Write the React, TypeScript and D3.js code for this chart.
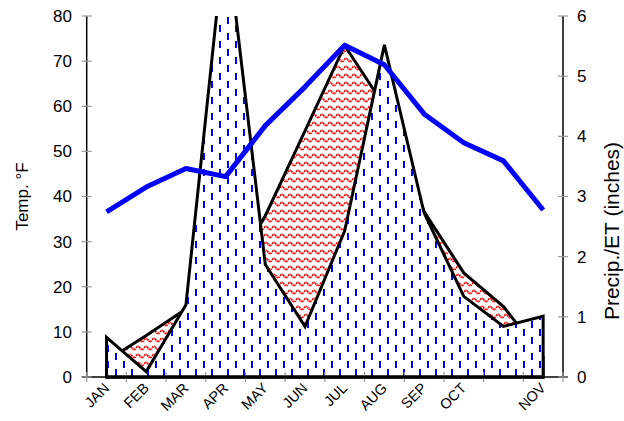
import React from "react";
import * as d3 from "d3";

const months = ["JAN", "FEB", "MAR", "APR", "MAY", "JUN", "JUL", "AUG", "SEP", "OCT", "", "NOV"];
const temp = [36.6, 42.1, 46.2, 44.4, 55.7, 64.3, 73.5, 69.2, 58.3, 51.9, 47.9, 37.0];
const precip = [0.66, 0.09, 1.2, 7.44, 1.87, 0.84, 2.43, 5.52, 2.73, 1.34, 0.84, 1.01];
const et = [0.27, 0.69, 1.13, 1.56, 2.68, 4.09, 5.51, 4.5, 2.75, 1.73, 1.17, 0.33];
const leftTicks = [0, 10, 20, 30, 40, 50, 60, 70, 80];
const rightTicks = [0, 1, 2, 3, 4, 5, 6];

const W = 624, H = 421;
const L = 86.7, R = 563, T = 16, B = 377;
const FONT = "'Liberation Sans', Arial, sans-serif";

export default function App() {
  const idx = months.map((_, i) => i);
  const x = d3.scaleBand<number>().domain(idx).range([L, R]).paddingInner(0).paddingOuter(0);
  const cx = (i: number) => (x(i) as number) + x.bandwidth() / 2;
  const yL = d3.scaleLinear().domain([0, 80]).range([B, T]);
  const yR = d3.scaleLinear().domain([0, 6]).range([B, T]);

  const areaGen = d3
    .area<number>()
    .x((_, i) => cx(i))
    .y0(yR(0))
    .y1((d) => yR(d));
  const lineGen = d3
    .line<number>()
    .x((_, i) => cx(i))
    .y((d) => yL(d));

  const boundaries = d3.range(months.length + 1).map((i) => L + i * x.bandwidth());

  return (
    <svg width={W} height={H} style={{ position: "absolute", left: 0, top: 0, background: "#fff" }} fontFamily={FONT}>
      <defs>
        <clipPath id="plotClip">
          <rect x={L - 5} y={T} width={R - L + 10} height={B - T + 5} />
        </clipPath>
        <pattern id="bluePat" patternUnits="userSpaceOnUse" width={16} height={16}>
          <rect width={16} height={16} fill="#fff" />
          <rect x={3} y={1} width={2} height={7} fill="#0000ff" />
          <rect x={11} y={9} width={2} height={7} fill="#0000ff" />
        </pattern>
        <pattern id="redPat" patternUnits="userSpaceOnUse" width={8} height={8}>
          <rect width={8} height={8} fill="#fff" />
          <path d="M0,4 Q2,0.8 4,4 T8,4" fill="none" stroke="#ff0000" strokeWidth={1.7} strokeDasharray="1.5 0.5" />
        </pattern>
      </defs>

      <g clipPath="url(#plotClip)">
        <path d={areaGen(et) as string} fill="url(#redPat)" stroke="#000" strokeWidth={3} strokeLinejoin="miter" />
        <path d={areaGen(precip) as string} fill="url(#bluePat)" stroke="#000" strokeWidth={3} strokeLinejoin="miter" />
      </g>

      {/* axes */}
      <line x1={L} x2={L} y1={T} y2={B} stroke="#000" strokeWidth={1.5} />
      <line x1={R} x2={R} y1={T} y2={B} stroke="#000" strokeWidth={1.5} />
      <line x1={L - 5} x2={R + 5} y1={B} y2={B} stroke="#000" strokeWidth={1.5} />
      {leftTicks.map((t) => (
        <g key={"l" + t}>
          <line x1={L - 5} x2={L + 5} y1={yL(t)} y2={yL(t)} stroke="#999" strokeWidth={1.2} />
          <text x={72} y={yL(t)} dy="0.35em" textAnchor="end" fontSize={17} fill="#000">
            {t}
          </text>
        </g>
      ))}
      {rightTicks.map((t) => (
        <g key={"r" + t}>
          <line x1={R - 5} x2={R + 5} y1={yR(t)} y2={yR(t)} stroke="#999" strokeWidth={1.2} />
          <text x={577} y={yR(t)} dy="0.35em" textAnchor="start" fontSize={17} fill="#000">
            {t}
          </text>
        </g>
      ))}
      {boundaries.map((b, i) => (
        <line key={"b" + i} x1={b} x2={b} y1={B - 5} y2={B + 5} stroke="#999" strokeWidth={1.2} />
      ))}

      {/* temperature line */}
      <path d={lineGen(temp) as string} fill="none" stroke="#0000ff" strokeWidth={5} strokeLinejoin="round" />

      {/* bottom outline re-drawn */}
      <line x1={cx(0)} x2={cx(months.length - 1)} y1={B} y2={B} stroke="#000" strokeWidth={3} />

      {months.map((m, i) =>
        m ? (
          <text
            key={"m" + i}
            transform={`translate(${cx(i) + 3.5},${389}) rotate(-45)`}
            textAnchor="end"
            fontSize={14.5}
            fill="#000"
          >
            {m}
          </text>
        ) : null
      )}

      <text transform={`translate(22.5,${(T + B) / 2}) rotate(-90)`} dy="0.35em" textAnchor="middle" fontSize={17} fill="#000">
        Temp. °F
      </text>
      <text transform={`translate(618.5,231) rotate(-90)`} textAnchor="middle" fontSize={21} fill="#000">
        Precip./ET (inches)
      </text>
    </svg>
  );
}
